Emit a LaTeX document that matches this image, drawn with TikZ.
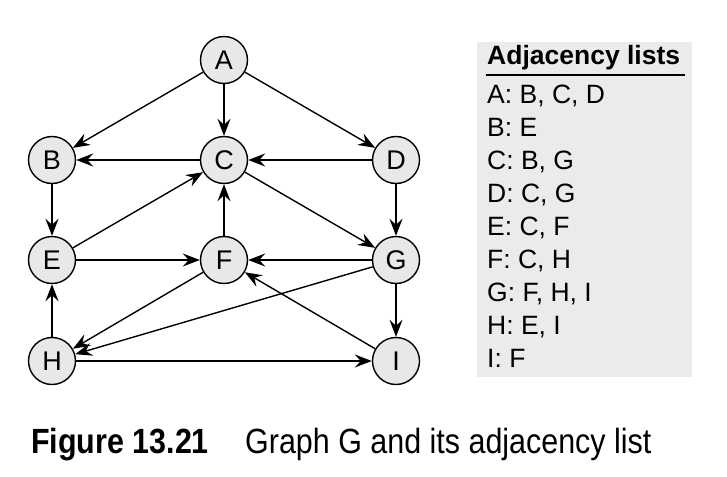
\documentclass[tikz,border=0pt]{standalone}
\usepackage{fontspec}
\setmainfont{Liberation Sans}
\newfontfamily\capfont[FakeStretch=0.87]{Liberation Sans}
\usetikzlibrary{arrows.meta}
\begin{document}
\begin{tikzpicture}[x=1pt, y=-1pt,
  vnode/.style={circle, draw, line width=1.4pt, fill=black!9, minimum size=47pt, inner sep=0pt, font=\fontsize{27}{28}\selectfont},
  arc/.style={line width=1.4pt, -{Stealth[length=17pt, width=13pt, inset=6pt]}},
  adj/.style={anchor=base west, inner sep=0pt, font=\fontsize{26.5}{28}\selectfont}]
  \useasboundingbox (0,0) rectangle (727,476);
  % graph G
  \node[vnode] (A) at (224,60) {A};
  \node[vnode] (B) at (52,160) {B};
  \node[vnode] (C) at (224,160) {C};
  \node[vnode] (D) at (396,160) {D};
  \node[vnode] (E) at (52,260) {E};
  \node[vnode] (F) at (224,260) {F};
  \node[vnode] (G) at (396,260) {G};
  \node[vnode] (H) at (52,361) {H};
  \node[vnode] (I) at (396,361) {I};
  \draw[arc] (A) -- (B); \draw[arc] (A) -- (C); \draw[arc] (A) -- (D);
  \draw[arc] (B) -- (E);
  \draw[arc] (C) -- (B); \draw[arc] (C) -- (G);
  \draw[arc] (D) -- (C); \draw[arc] (D) -- (G);
  \draw[arc] (E) -- (C); \draw[arc] (E) -- (F);
  \draw[arc] (F) -- (C); \draw[arc] (F) -- (H);
  \draw[arc] (G) -- (F); \draw[arc] (G) -- (H); \draw[arc] (G) -- (I);
  \draw[arc] (H) -- (E); \draw[arc] (H) -- (I);
  \draw[arc] (I) -- (F);
  % adjacency lists
  \fill[black!8] (477,42) rectangle (692,377);
  \node[adj, font=\fontsize{26.5}{28}\selectfont\bfseries] (title) at (487,65) {Adjacency lists};
  \draw[line width=1.5pt] (486,75) -- (685,75);
  \node[adj] (la) at (487,103) {A: B, C, D};
  \node[adj] (lb) at (487,136) {B: E};
  \node[adj] (lc) at (487,169) {C: B, G};
  \node[adj] (ld) at (487,202) {D: C, G};
  \node[adj] (le) at (487,235) {E: C, F};
  \node[adj] (lf) at (487,268) {F: C, H};
  \node[adj] (lg) at (487,301) {G: F, H, I};
  \node[adj] (lh) at (487,334) {H: E, I};
  \node[adj] (li) at (487,367) {I: F};
  % caption
  \node[anchor=base west, inner sep=0pt, font=\capfont\fontsize{35}{38}\selectfont\bfseries] (fig) at (31,453) {Figure 13.21};
  \node[anchor=base west, inner sep=0pt, font=\capfont\fontsize{35}{38}\selectfont] (cap) at (245,453) {Graph G and its adjacency list};
\end{tikzpicture}
\end{document}
